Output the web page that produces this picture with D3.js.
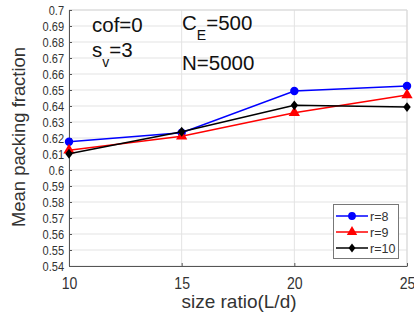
<!DOCTYPE html>
<html>
<head>
<meta charset="utf-8">
<script src="https://cdn.jsdelivr.net/npm/d3@7"></script>
<style>
  body { margin: 0; background: #fff; }
  svg { display: block; font-family: "Liberation Sans", Arial, sans-serif; }
</style>
</head>
<body>
<svg id="chart" width="414" height="322"></svg>
<script>
// Size ratios on the x axis
const sizeRatio = [10, 15, 20, 25];
// Mean packing fraction for each r
const r8 = [0.6176, 0.6233, 0.6494, 0.6525];
const r9 = [0.6124, 0.6211, 0.6358, 0.6469];
const r10 = [0.6101, 0.6239, 0.6404, 0.6393];
const seriesNames = ["r=8", "r=9", "r=10"];
const seriesColors = ["#0000ff", "#ff0000", "#000000"];
const seriesMarkers = ["circle", "triangle", "diamond"];
const yTicks = [0.54, 0.55, 0.56, 0.57, 0.58, 0.59, 0.6, 0.61, 0.62, 0.63, 0.64, 0.65, 0.66, 0.67, 0.68, 0.69, 0.7];
const xTicks = [10, 15, 20, 25];

const series = [r8, r9, r10].map((vals, i) => ({
  name: seriesNames[i], color: seriesColors[i], marker: seriesMarkers[i],
  points: vals.map((v, j) => ({ x: sizeRatio[j], y: v }))
}));

const svg = d3.select("#chart");
const m = { left: 69, top: 10, right: 407, bottom: 266 };
const x = d3.scaleLinear().domain([10, 25]).range([m.left, m.right]);
const y = d3.scaleLinear().domain([0.54, 0.7]).range([m.bottom, m.top]);

// Grid
svg.append("g").selectAll("line").data(yTicks).join("line")
  .attr("x1", m.left).attr("x2", m.right)
  .attr("y1", d => y(d)).attr("y2", d => y(d))
  .attr("stroke", "#e3e3e3").attr("stroke-width", 1);
svg.append("g").selectAll("line").data(xTicks).join("line")
  .attr("x1", d => x(d)).attr("x2", d => x(d))
  .attr("y1", m.top).attr("y2", m.bottom)
  .attr("stroke", "#e3e3e3").attr("stroke-width", 1);

// Box (top and right)
svg.append("path")
  .attr("d", `M${m.left},${m.top}H${m.right}V${m.bottom}`)
  .attr("fill", "none").attr("stroke", "#d9d9d9").attr("stroke-width", 1);

// Axes
const yAxis = d3.axisLeft(y).tickValues(yTicks).tickSize(-3).tickSizeOuter(0)
  .tickFormat(d => d3.format("~g")(d));
const gy = svg.append("g").attr("transform", `translate(${m.left},0)`).call(yAxis);
gy.select(".domain").attr("stroke", "#555");
gy.selectAll(".tick line").attr("stroke", "#555");
gy.selectAll(".tick text").attr("fill", "#333").attr("font-size", 13.5)
  .attr("x", -6).attr("transform", "scale(0.82,1)")
  .attr("font-family", "Liberation Sans, Arial, sans-serif");

const xAxis = d3.axisBottom(x).tickValues(xTicks).tickSize(-3).tickSizeOuter(0);
const gx = svg.append("g").attr("transform", `translate(0,${m.bottom})`).call(xAxis);
gx.select(".domain").attr("stroke", "#555");
gx.selectAll(".tick line").attr("stroke", "#555");
gx.selectAll(".tick text").attr("fill", "#333").attr("font-size", 16).attr("y", 12)
  .attr("transform", "scale(0.88,1)")
  .attr("font-family", "Liberation Sans, Arial, sans-serif");

// Axis titles
svg.append("text").attr("x", 239).attr("y", 308).attr("text-anchor", "middle")
  .attr("font-size", 19).attr("fill", "#333").text("size ratio(L/d)");
svg.append("text").attr("transform", "translate(25,137) rotate(-90)")
  .attr("text-anchor", "middle").attr("font-size", 18.4).attr("fill", "#333")
  .text("Mean packing fraction");

// Marker shapes
const tallDiamond = {
  draw(ctx, size) {
    const h = Math.sqrt(size * 0.62), w = h * 0.75;
    ctx.moveTo(0, -h); ctx.lineTo(w, 0); ctx.lineTo(0, h); ctx.lineTo(-w, 0); ctx.closePath();
  }
};
const symbolFor = k => k === "circle" ? d3.symbolCircle : k === "triangle" ? d3.symbolTriangle : tallDiamond;
const sizeFor = k => k === "circle" ? 56 : k === "triangle" ? 55 : 40;

// Lines and markers
const line = d3.line().x(d => x(d.x)).y(d => y(d.y));
series.forEach(s => {
  svg.append("path").datum(s.points).attr("d", line)
    .attr("fill", "none").attr("stroke", s.color).attr("stroke-width", 1.5);
  svg.append("g").selectAll("path").data(s.points).join("path")
    .attr("transform", d => `translate(${x(d.x)},${y(d.y)})`)
    .attr("d", d3.symbol().type(symbolFor(s.marker)).size(sizeFor(s.marker)))
    .attr("fill", s.color);
});

// Annotations
const ann = svg.append("g").attr("fill", "#111").attr("font-size", 20.5);
ann.append("text").attr("x", 92).attr("y", 32).text("cof=0");
const sv = ann.append("text").attr("x", 92).attr("y", 57);
sv.append("tspan").text("s");
sv.append("tspan").attr("font-size", 14).attr("dy", 10).text("v");
sv.append("tspan").attr("dy", -10).text("=3");
const ce = ann.append("text").attr("x", 182).attr("y", 30);
ce.append("tspan").text("C");
ce.append("tspan").attr("font-size", 14).attr("dy", 10).text("E");
ce.append("tspan").attr("dy", -10).text("=500");
ann.append("text").attr("x", 182).attr("y", 70).text("N=5000");

// Legend
const lg = svg.append("g");
lg.append("rect").attr("x", 333.5).attr("y", 204.5).attr("width", 65).attr("height", 54)
  .attr("fill", "#fff").attr("stroke", "#777").attr("stroke-width", 1);
series.forEach((s, i) => {
  const ly = 216 + i * 16;
  lg.append("line").attr("x1", 336).attr("x2", 368).attr("y1", ly).attr("y2", ly)
    .attr("stroke", s.color).attr("stroke-width", 1.5);
  lg.append("path").attr("transform", `translate(352,${ly})`)
    .attr("d", d3.symbol().type(symbolFor(s.marker)).size(sizeFor(s.marker) * 0.85))
    .attr("fill", s.color);
  lg.append("text").attr("x", 370).attr("y", ly + 4.5).attr("font-size", 12.5)
    .attr("fill", "#333").text(s.name);
});
</script>
</body>
</html>
